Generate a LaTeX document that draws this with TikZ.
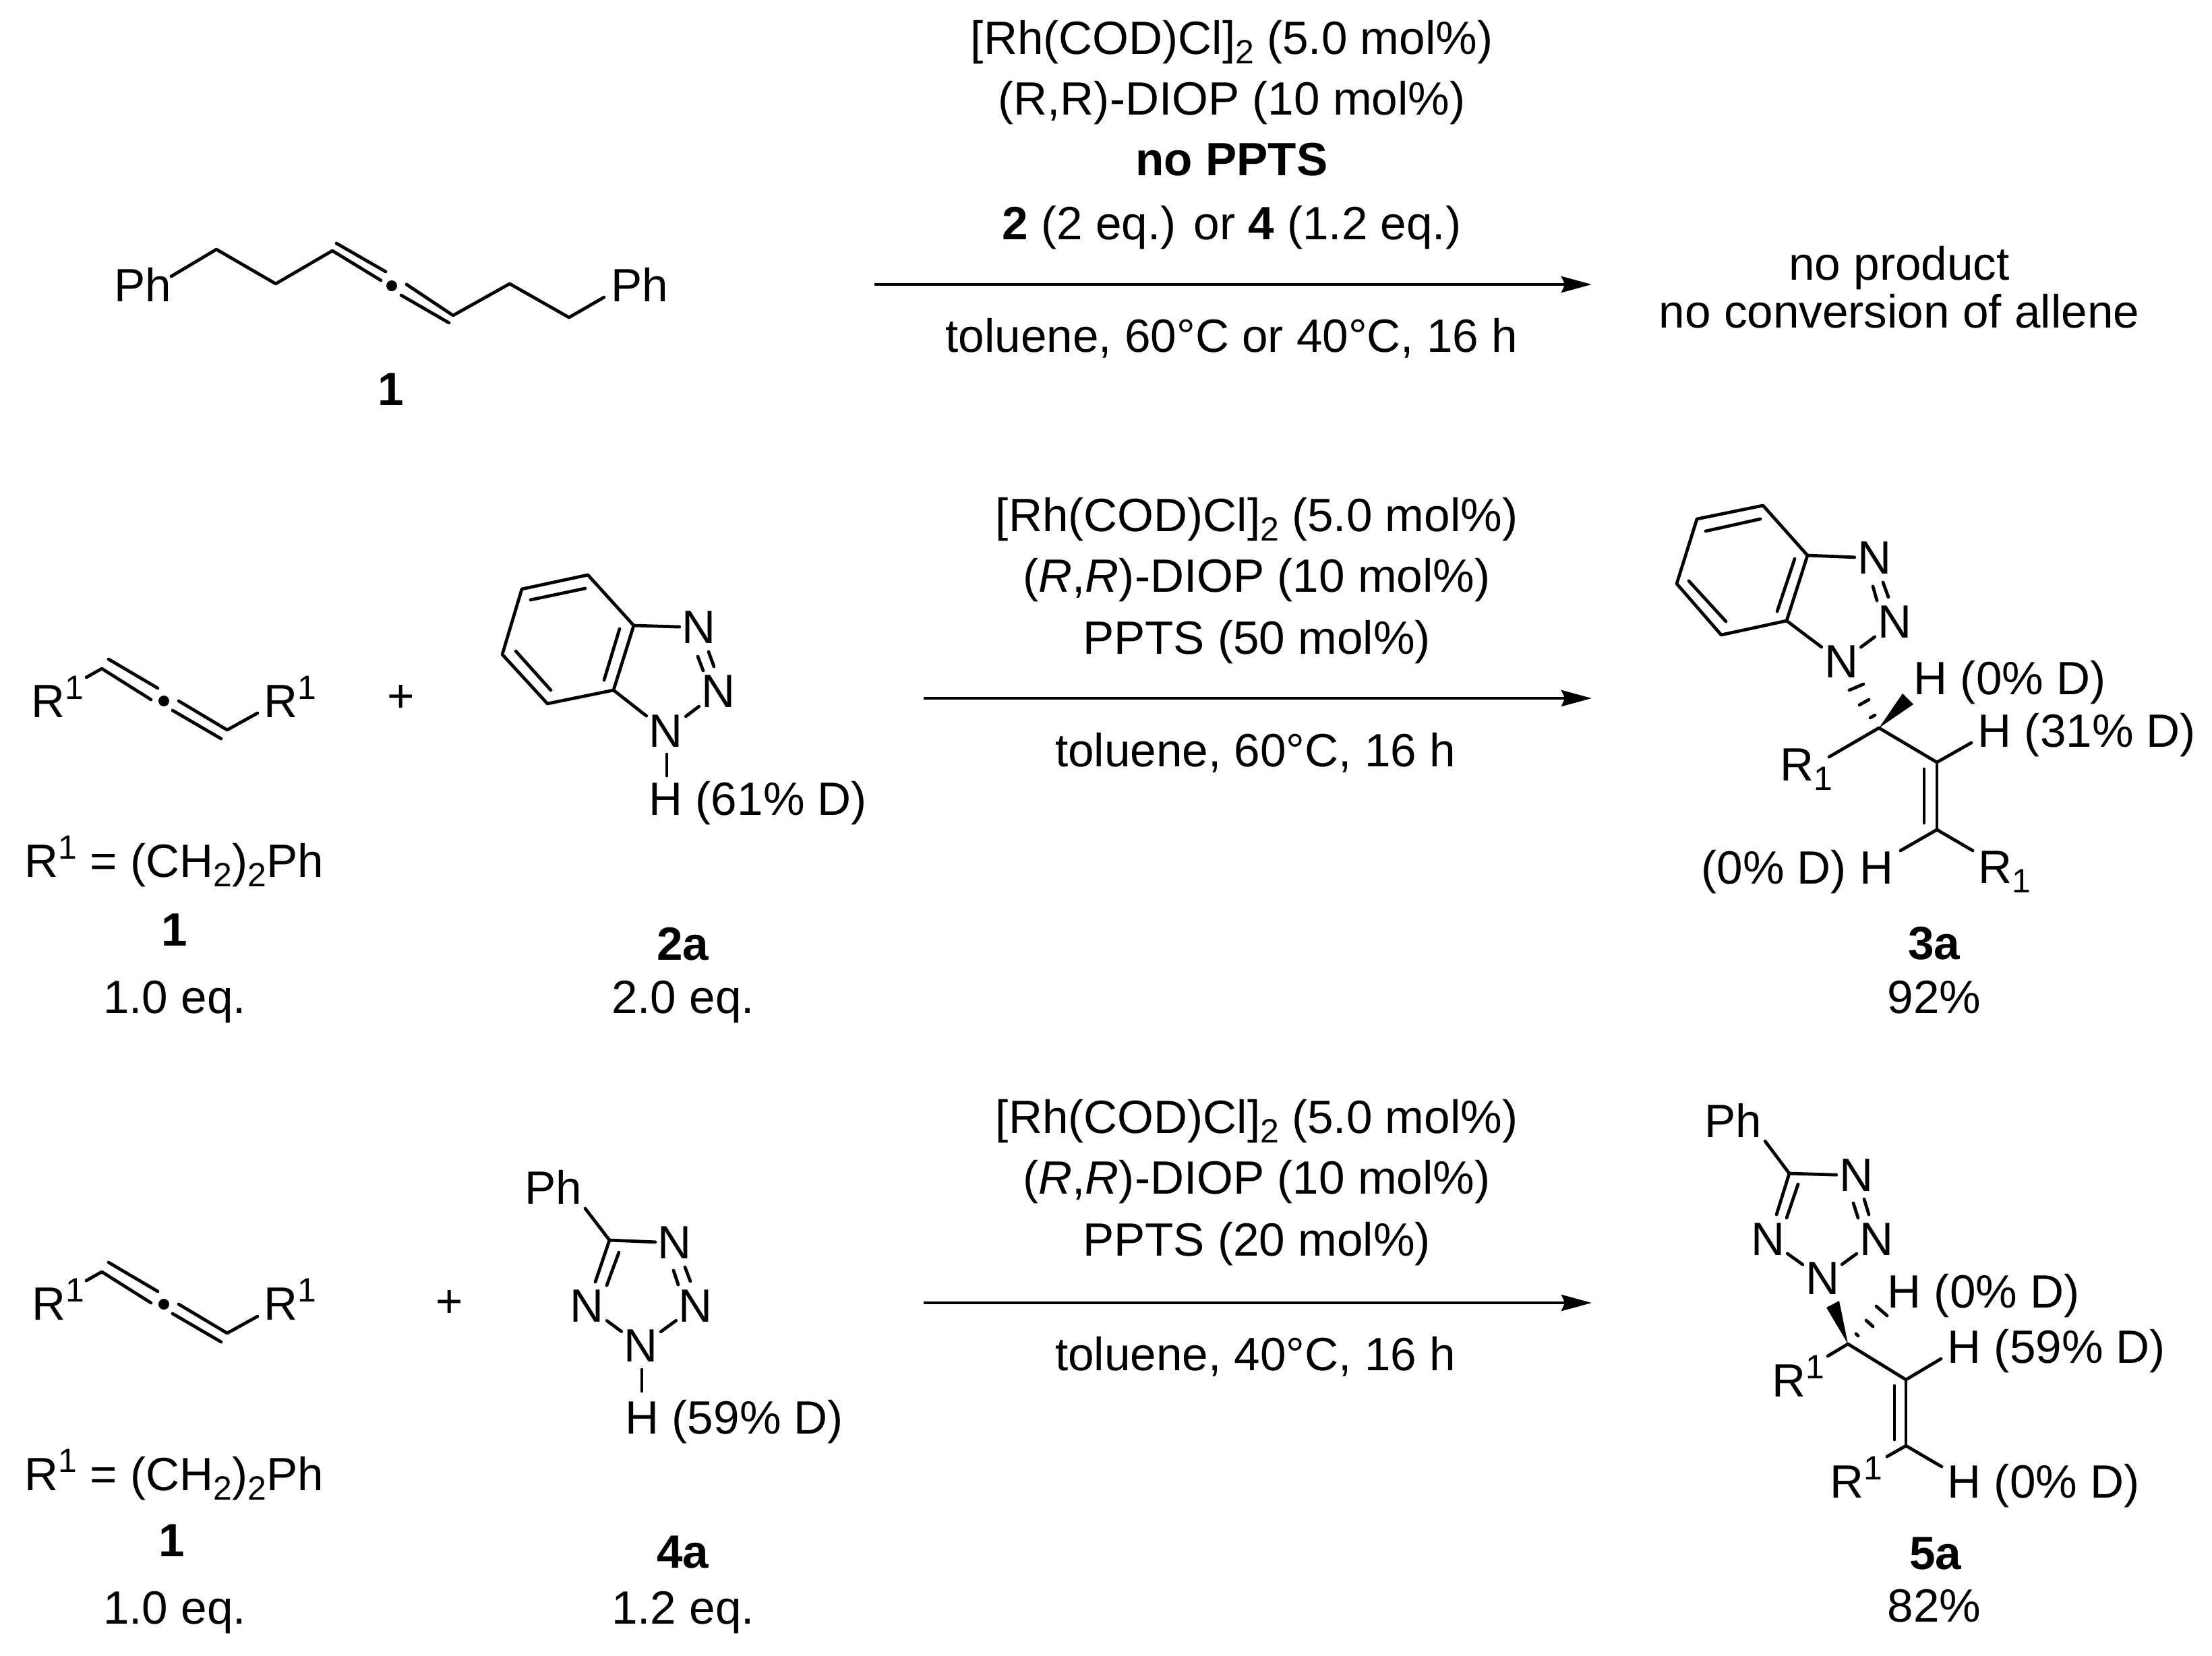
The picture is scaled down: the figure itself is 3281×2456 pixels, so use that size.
\documentclass[tikz,border=0pt]{standalone}
\usepackage{fontspec}
\setmainfont{Liberation Sans}
\usetikzlibrary{arrows.meta}
\newcommand{\csub}[1]{\raisebox{-4.2pt}{\fontsize{14.2pt}{14pt}\selectfont #1}}
\newcommand{\csup}[1]{\raisebox{7.6pt}{\fontsize{14.2pt}{14pt}\selectfont #1}}
\newcommand{\cc}[2]{\coordinate (#1) at (#2);}
\tikzset{
  txt/.style={font=\fontsize{19.7pt}{24pt}\selectfont, inner sep=0pt, anchor=base, text=black},
  ltxt/.style={txt, anchor=base west},
  atom/.style={font=\fontsize{19.7pt}{24pt}\selectfont, inner sep=1pt, anchor=center, text=black},
  bond/.style={draw=black, line width=1.35pt, line cap=round, line join=round},
  rxn/.style={draw=black, line width=1.3pt, -{Stealth[length=12.8pt,width=6.8pt,inset=1.5pt]}},
}
\begin{document}
\begin{tikzpicture}[x=0.01cm,y=-0.01cm]
\useasboundingbox[fill=white] (0,0) rectangle (3281,2456);

% ---------- Row 1 ----------
\node[txt] (c1a) at (1827,80) {[Rh(COD)Cl]\csub{2} (5.0 mol\%)};
\node[txt] (c1b) at (1827,170) {(R,R)-DIOP (10 mol\%)};
\node[txt] (c1c) at (1827,260) {\textbf{no PPTS}};
\node[txt] (c1d) at (1827,355) {\textbf{2} (2 eq.) or \textbf{4} (1.2 eq.)};
\node[txt] (c1e) at (1827,522) {toluene, 60°C or 40°C, 16 h};
\node[txt] (p1a) at (2817,415) {no product};
\node[txt] (p1b) at (2817,486) {no conversion of allene};
\cc{ar1s}{1297,422} \cc{ar1e}{2361,422}
\draw[rxn] (ar1s) -- (ar1e);

\node[txt] (ph1) at (212,447) {Ph};
\node[txt] (ph2) at (949,447) {Ph};
\node[txt] (n1) at (580,601) {\textbf{1}};
\cc{t0}{254,410} \cc{t1}{321,370} \cc{t2}{409,421} \cc{t3}{493,372}
\cc{t4}{565,416} \cc{t5}{499,361} \cc{t6}{572,403}
\cc{td}{581,424}
\cc{t7}{603,422} \cc{t8}{672,468} \cc{t9}{595,438} \cc{t10}{666,479}
\cc{t11}{756,421} \cc{t12}{844,471} \cc{t13}{896,441}
\draw[bond] (t0) -- (t1) -- (t2) -- (t3) -- (t4);
\draw[bond] (t5) -- (t6);
\fill (td) circle[radius=8];
\draw[bond] (t7) -- (t8) -- (t11) -- (t12) -- (t13);
\draw[bond] (t9) -- (t10);

% ---------- Row 2 ----------
\node[ltxt] (r2l) at (46,1064) {R\csup{1}};
\node[ltxt] (r2r) at (391,1064) {R\csup{1}};
\cc{a0}{128,1005} \cc{a1}{151,992} \cc{a2}{224,1038} \cc{a3}{161,978} \cc{a4}{234,1021}
\cc{ad}{243,1040}
\cc{a5}{265,1040} \cc{a6}{337,1083} \cc{a7}{256,1054} \cc{a8}{328,1096} \cc{a9}{382,1058}
\draw[bond] (a0) -- (a1) -- (a2);
\draw[bond] (a3) -- (a4);
\fill (ad) circle[radius=8];
\draw[bond] (a5) -- (a6) -- (a9);
\draw[bond] (a7) -- (a8);
\node[txt] (pl2) at (595,1056) {+};

\cc{b1}{872,853} \cc{b2}{774,874} \cc{b3}{745,971} \cc{b4}{812,1044} \cc{b5}{910,1024} \cc{b6}{940,928}
\cc{bi1}{868,873} \cc{bi2}{787,890} \cc{bi3}{765,966} \cc{bi4}{817,1024} \cc{bi5}{919,933} \cc{bi6}{896,1009}
\draw[bond] (b1) -- (b2) -- (b3) -- (b4) -- (b5) -- (b6) -- cycle;
\draw[bond] (bi1) -- (bi2);
\draw[bond] (bi3) -- (bi4);
\draw[bond] (bi5) -- (bi6);
\node[atom] (bn3) at (1037,931) {N};
\node[atom] (bn2) at (1066,1026) {N};
\node[atom] (bn1) at (988,1085) {N};
\node[ltxt] (bh) at (962,1209) {H (61\% D)};
\cc{bd1}{1035,974} \cc{bd2}{1043,995} \cc{bd3}{1051,967} \cc{bd4}{1059,989}
\cc{bh1}{989,1119} \cc{bh2}{989,1151}
\draw[bond] (b6) -- (bn3);
\draw[bond] (bd1) -- (bd2);
\draw[bond] (bd3) -- (bd4);
\draw[bond] (bn2) -- (bn1);
\draw[bond] (b5) -- (bn1);
\draw[bond] (bh1) -- (bh2);

\node[ltxt] (rd2) at (36,1301) {R\csup{1} = (CH\csub{2})\csub{2}Ph};
\node[txt] (n1b) at (259,1403) {\textbf{1}};
\node[txt] (eq1) at (259,1503) {1.0 eq.};
\node[txt] (n2a) at (1013,1424) {\textbf{2a}};
\node[txt] (eq2) at (1013,1503) {2.0 eq.};

\node[txt] (c2a) at (1864,788) {[Rh(COD)Cl]\csub{2} (5.0 mol\%)};
\node[txt] (c2b) at (1864,878) {(\textit{R},\textit{R})-DIOP (10 mol\%)};
\node[txt] (c2c) at (1864,970) {PPTS (50 mol\%)};
\node[txt] (c2e) at (1862,1137) {toluene, 60°C, 16 h};
\cc{ar2s}{1370,1036} \cc{ar2e}{2361,1036}
\draw[rxn] (ar2s) -- (ar2e);

% product 3a
\cc{d1}{2615,750} \cc{d2}{2517,770} \cc{d3}{2487,866} \cc{d4}{2553,942} \cc{d5}{2650,921} \cc{d6}{2681,824}
\cc{di1}{2611,770} \cc{di2}{2530,788} \cc{di3}{2505,862} \cc{di4}{2560,922} \cc{di5}{2662,829} \cc{di6}{2636,907}
\draw[bond] (d1) -- (d2) -- (d3) -- (d4) -- (d5) -- (d6) -- cycle;
\draw[bond] (di1) -- (di2);
\draw[bond] (di3) -- (di4);
\draw[bond] (di5) -- (di6);
\node[atom] (dn3) at (2780,828) {N};
\node[atom] (dn2) at (2810,923) {N};
\node[atom] (dn1) at (2731,982) {N};
\cc{dd1}{2778,870} \cc{dd2}{2784,891} \cc{dd3}{2793,864} \cc{dd4}{2801,886}
\draw[bond] (d6) -- (dn3);
\draw[bond] (dd1) -- (dd2);
\draw[bond] (dd3) -- (dd4);
\draw[bond] (dn2) -- (dn1);
\draw[bond] (d5) -- (dn1);
\cc{dc}{2787,1080} \cc{dw1}{2822,1029} \cc{dw2}{2838,1045}
\fill (dc) -- (dw1) -- (dw2) -- cycle;
\cc{dh1}{2743,1024} \cc{dh2}{2764,1015} \cc{dh3}{2758,1046} \cc{dh4}{2772,1038} \cc{dh5}{2774,1065} \cc{dh6}{2781,1061}
\draw[bond] (dh1) -- (dh2);
\draw[bond] (dh3) -- (dh4);
\draw[bond] (dh5) -- (dh6);
\cc{dr}{2713,1123} \cc{de}{2873,1131} \cc{deh}{2924,1102} \cc{df}{2873,1231} \cc{dfh}{2819,1262} \cc{dfr}{2926,1262}
\cc{dii1}{2854,1141} \cc{dii2}{2854,1221}
\draw[bond] (dr) -- (dc) -- (de) -- (deh);
\draw[bond] (de) -- (df);
\draw[bond] (dii1) -- (dii2);
\draw[bond] (dfh) -- (df) -- (dfr);
\node[ltxt] (dt1) at (2838,1030) {H (0\% D)};
\node[ltxt] (dt2) at (2933,1108) {H (31\% D)};
\node[ltxt] (dt3) at (2640,1158) {R\csub{1}};
\node[txt,anchor=base east] (dt4) at (2809,1311) {(0\% D) H};
\node[ltxt] (dt5) at (2934,1310) {R\csub{1}};
\node[txt] (n3a) at (2869,1423) {\textbf{3a}};
\node[txt] (y3a) at (2869,1503) {92\%};

% ---------- Row 3 ----------
\node[ltxt] (r3l) at (47,1958) {R\csup{1}};
\node[ltxt] (r3r) at (391,1958) {R\csup{1}};
\cc{e0}{128,1900} \cc{e1}{151,1887} \cc{e2}{224,1933} \cc{e3}{161,1873} \cc{e4}{234,1916}
\cc{ed}{243,1935}
\cc{e5}{265,1935} \cc{e6}{337,1978} \cc{e7}{256,1949} \cc{e8}{328,1991} \cc{e9}{382,1953}
\draw[bond] (e0) -- (e1) -- (e2);
\draw[bond] (e3) -- (e4);
\fill (ed) circle[radius=8];
\draw[bond] (e5) -- (e6) -- (e9);
\draw[bond] (e7) -- (e8);
\node[txt] (pl3) at (667,1954) {+};

\node[txt] (gph) at (821,1786) {Ph};
\cc{g0}{868,1793} \cc{g1}{904,1840} \cc{gi1}{883,1902} \cc{gi2}{918,1858} \cc{gi3}{900,1907}
\node[atom] (gn4) at (1001,1844) {N};
\node[atom] (gn3) at (871,1938) {N};
\node[atom] (gn2) at (1032,1938) {N};
\node[atom] (gn1) at (951,1997) {N};
\node[ltxt] (gh) at (927,2127) {H (59\% D)};
\cc{gd1}{999,1885} \cc{gd2}{1006,1906} \cc{gd3}{1016,1880} \cc{gd4}{1024,1901}
\cc{gh1}{952,2032} \cc{gh2}{952,2064}
\draw[bond] (g0) -- (g1);
\draw[bond] (g1) -- (gn4);
\draw[bond] (g1) -- (gi1);
\draw[bond] (gi2) -- (gi3);
\draw[bond] (gd1) -- (gd2);
\draw[bond] (gd3) -- (gd4);
\draw[bond] (gn3) -- (gn1);
\draw[bond] (gn2) -- (gn1);
\draw[bond] (gh1) -- (gh2);

\node[ltxt] (rd3) at (36,2211) {R\csup{1} = (CH\csub{2})\csub{2}Ph};
\node[txt] (n1c) at (255,2309) {\textbf{1}};
\node[txt] (eq3) at (259,2409) {1.0 eq.};
\node[txt] (n4a) at (1013,2326) {\textbf{4a}};
\node[txt] (eq4) at (1013,2409) {1.2 eq.};

\node[txt] (c3a) at (1864,1681) {[Rh(COD)Cl]\csub{2} (5.0 mol\%)};
\node[txt] (c3b) at (1864,1771) {(\textit{R},\textit{R})-DIOP (10 mol\%)};
\node[txt] (c3c) at (1864,1863) {PPTS (20 mol\%)};
\node[txt] (c3e) at (1862,2033) {toluene, 40°C, 16 h};
\cc{ar3s}{1370,1933} \cc{ar3e}{2361,1933}
\draw[rxn] (ar3s) -- (ar3e);

% product 5a
\node[txt] (kph) at (2571,1687) {Ph};
\cc{k0}{2618,1693} \cc{k1}{2654,1741} \cc{ki1}{2635,1802} \cc{ki2}{2667,1757} \cc{ki3}{2650,1807}
\node[atom] (kn4) at (2753,1744) {N};
\node[atom] (kn3) at (2622,1839) {N};
\node[atom] (kn2) at (2783,1839) {N};
\node[atom] (kn1) at (2703,1897) {N};
\cc{kd1}{2749,1785} \cc{kd2}{2756,1807} \cc{kd3}{2765,1779} \cc{kd4}{2772,1802}
\draw[bond] (k0) -- (k1);
\draw[bond] (k1) -- (kn4);
\draw[bond] (k1) -- (ki1);
\draw[bond] (ki2) -- (ki3);
\draw[bond] (kd1) -- (kd2);
\draw[bond] (kd3) -- (kd4);
\draw[bond] (kn3) -- (kn1);
\draw[bond] (kn2) -- (kn1);
\cc{kc}{2741,1994} \cc{kw1}{2709,1940} \cc{kw2}{2728,1930}
\fill (kc) -- (kw1) -- (kw2) -- cycle;
\cc{kh1}{2783,1938} \cc{kh2}{2799,1952} \cc{kh3}{2768,1959} \cc{kh4}{2778,1968} \cc{kh5}{2753,1979} \cc{kh6}{2756,1982}
\draw[bond] (kh1) -- (kh2);
\draw[bond] (kh3) -- (kh4);
\draw[bond] (kh5) -- (kh6);
\cc{kr}{2711,2012} \cc{ke}{2827,2047} \cc{keh}{2879,2016} \cc{kf}{2827,2145} \cc{kfh}{2880,2176} \cc{kfr}{2799,2161}
\cc{kii1}{2810,2056} \cc{kii2}{2810,2136}
\draw[bond] (kr) -- (kc) -- (ke) -- (keh);
\draw[bond] (ke) -- (kf);
\draw[bond] (kii1) -- (kii2);
\draw[bond] (kfr) -- (kf) -- (kfh);
\node[ltxt] (kt1) at (2799,1940) {H (0\% D)};
\node[ltxt] (kt2) at (2888,2022) {H (59\% D)};
\node[ltxt] (kt3) at (2628,2072) {R\csup{1}};
\node[ltxt] (kt4) at (2714,2222) {R\csup{1}};
\node[ltxt] (kt5) at (2888,2222) {H (0\% D)};
\node[txt] (n5a) at (2871,2328) {\textbf{5a}};
\node[txt] (y5a) at (2869,2406) {82\%};
\end{tikzpicture}
\end{document}
